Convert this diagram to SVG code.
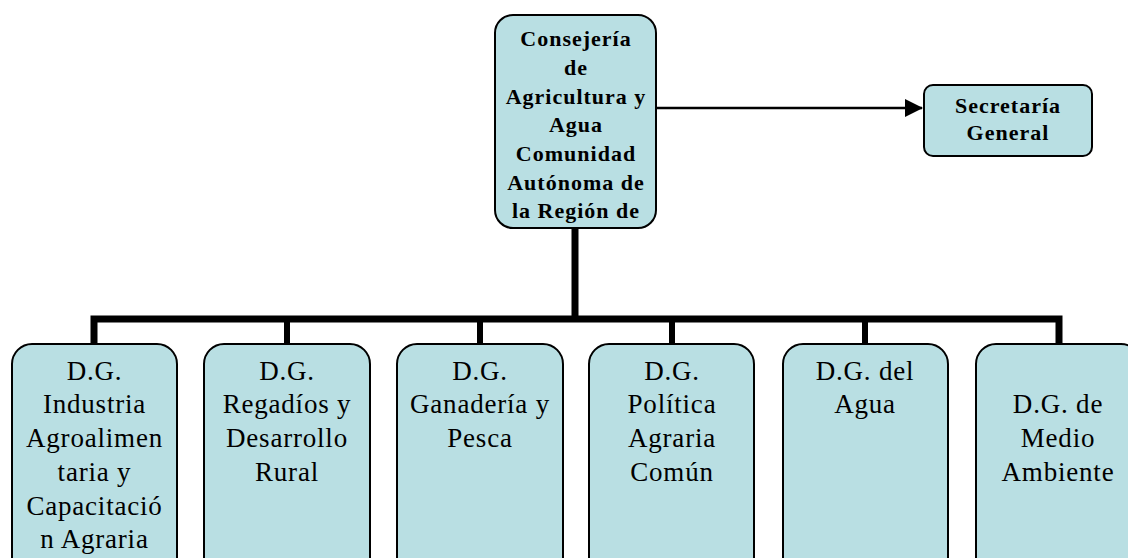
<svg xmlns="http://www.w3.org/2000/svg" width="1128" height="558" viewBox="0 0 1128 558">
<style>
.box{fill:#B9DFE3;stroke:#000;stroke-width:2}
.bt{font-family:"Liberation Serif","Times New Roman",serif;font-size:22px;font-weight:bold;letter-spacing:1px;text-anchor:middle;fill:#000}
.rt{font-family:"Liberation Serif","Times New Roman",serif;font-size:27px;letter-spacing:0.8px;text-anchor:middle;fill:#000}
.thick{stroke:#000;stroke-width:7;fill:none}
.drop{stroke:#000;stroke-width:6;fill:none}
</style>
<defs>
<marker id="arr" markerWidth="10" markerHeight="10" refX="9" refY="5" orient="auto" markerUnits="userSpaceOnUse" viewBox="0 0 10 10">
<path d="M0,0 L10,5 L0,10 Z" fill="#000"/>
</marker>
</defs>
<rect width="1128" height="558" fill="#fff"/>
<g id="connectors">
<line x1="657" y1="108" x2="922" y2="108" stroke="#000" stroke-width="2.5"/>
<polygon points="905,99 923,108 905,117" fill="#000"/>
<line class="thick" x1="575" y1="228" x2="575" y2="319"/>
<polyline class="thick" points="94,344 94,319 1059,319 1059,344" stroke-linejoin="miter"/>
<line class="drop" x1="287" y1="319" x2="287" y2="344"/>
<line class="drop" x1="480" y1="319" x2="480" y2="344"/>
<line class="drop" x1="672" y1="319" x2="672" y2="344"/>
<line class="drop" x1="865" y1="319" x2="865" y2="344"/>
</g>
<g id="consejeria">
<rect class="box" x="495" y="15" width="161" height="213" rx="18" ry="18"/>
<text class="bt" x="576" y="46">Consejería</text>
<text class="bt" x="576" y="75">de</text>
<text class="bt" x="576" y="104">Agricultura y</text>
<text class="bt" x="576" y="132">Agua</text>
<text class="bt" x="576" y="161">Comunidad</text>
<text class="bt" x="576" y="190">Autónoma de</text>
<text class="bt" x="576" y="218">la Región de</text>
</g>
<g id="secretaria">
<rect class="box" x="924" y="85" width="168" height="71" rx="9" ry="9"/>
<text class="bt" x="1008" y="113">Secretaría</text>
<text class="bt" x="1008" y="140">General</text>
</g>
<g id="dg-industria">
<rect class="box" x="12" y="344" width="165" height="240" rx="20" ry="20"/>
<text class="rt" x="94.5" y="380">D.G.</text>
<text class="rt" x="94.5" y="413">Industria</text>
<text class="rt" x="94.5" y="447">Agroalimen</text>
<text class="rt" x="94.5" y="481">taria y</text>
<text class="rt" x="94.5" y="515">Capacitació</text>
<text class="rt" x="94.5" y="548">n Agraria</text>
</g>
<g id="dg-regadios">
<rect class="box" x="204" y="344" width="166" height="240" rx="20" ry="20"/>
<text class="rt" x="287" y="380">D.G.</text>
<text class="rt" x="287" y="413">Regadíos y</text>
<text class="rt" x="287" y="447">Desarrollo</text>
<text class="rt" x="287" y="481">Rural</text>
</g>
<g id="dg-ganaderia">
<rect class="box" x="397" y="344" width="166" height="240" rx="20" ry="20"/>
<text class="rt" x="480" y="380">D.G.</text>
<text class="rt" x="480" y="413">Ganadería y</text>
<text class="rt" x="480" y="447">Pesca</text>
</g>
<g id="dg-politica">
<rect class="box" x="589" y="344" width="165" height="240" rx="20" ry="20"/>
<text class="rt" x="672" y="380">D.G.</text>
<text class="rt" x="672" y="413">Política</text>
<text class="rt" x="672" y="447">Agraria</text>
<text class="rt" x="672" y="481">Común</text>
</g>
<g id="dg-agua">
<rect class="box" x="783" y="344" width="165" height="240" rx="20" ry="20"/>
<text class="rt" x="865" y="380">D.G. del</text>
<text class="rt" x="865" y="413">Agua</text>
</g>
<g id="dg-medio">
<rect class="box" x="976" y="344" width="165" height="240" rx="20" ry="20"/>
<text class="rt" x="1058" y="413">D.G. de</text>
<text class="rt" x="1058" y="447">Medio</text>
<text class="rt" x="1058" y="481">Ambiente</text>
</g>
</svg>
